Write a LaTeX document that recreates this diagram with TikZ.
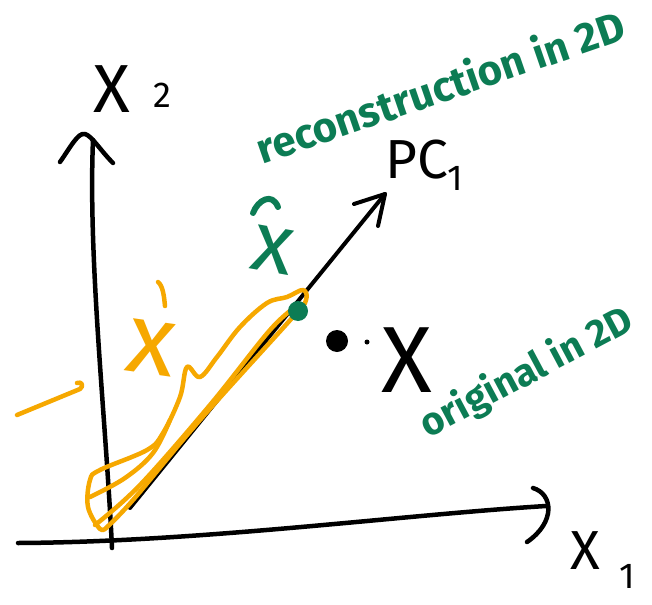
\documentclass[tikz,border=0pt]{standalone}
\usepackage{fontspec}
\setmainfont{Fira Sans}
\definecolor{pengreen}{RGB}{12,124,84}
\definecolor{penorange}{RGB}{246,168,0}
\begin{document}
\begin{tikzpicture}[x=1pt,y=-1pt,line cap=round,line join=round,
  ink/.style={line width=4.5pt,black},
  orangepen/.style={line width=4.5pt,penorange},
  lbl/.style={inner sep=0pt,outer sep=0pt},
  big/.style={lbl,font=\fontsize{#1}{#1}\selectfont},
  greentext/.style={lbl,text=pengreen,font=\bfseries\fontsize{#1}{#1}\selectfont}]
\useasboundingbox (0,0) rectangle (652,604);
% coordinates
\coordinate (yb) at (112,548);
\coordinate (yt) at (93,140);
\coordinate (xl) at (18,543);
\coordinate (xr) at (546,506);
\coordinate (po) at (130,508);
\coordinate (pt) at (385,194);
% y axis
\draw[ink] (yb) .. controls (106,420) and (88,260) .. (yt);
\draw[ink] (60,162) .. controls (70,148) and (78,132) .. (85,134) .. controls (92,136) and (100,150) .. (113,163);
% x axis
\draw[ink] (xl) .. controls (200,542) and (400,515) .. (xr);
\draw[ink] (533,488) .. controls (553,494) and (556,522) .. (527,542);
% PC1 axis
\draw[ink,line width=4pt] (po) -- (pt);
\draw[ink,line width=4pt] (354,204) -- (pt) -- (378,226);
% labels
\node[big=68] (x2) at (112,89) {X};
\node[big=36] (x2s) at (162,95) {2};
\node[big=55] (x1) at (585,551) {X};
\node[big=36] (x1s) at (627,576) {1};
\node[big=55] (pc) at (417,160) {PC};
\node[big=36] (pcs) at (455,178) {1};
% points
\node[circle,fill=black,minimum size=22pt,inner sep=0pt] (xpt) at (337,341) {};
\node[circle,fill=black,minimum size=5pt,inner sep=0pt] (dotm) at (367,342) {};
\node[big=94,text height=64pt,text depth=0pt] (xlab) at (407,360) {X};
% orange scribble (reconstruction error path)
\draw[orangepen] plot[smooth,tension=0.6] coordinates {(107,527) (100,529) (88,507) (90,480) (100,470) (147,450) (163,433) (180,397) (187,367) (200,377) (217,357) (240,327) (267,303) (287,297) (303,290) (306,300) (292,318) (200,420) (133,500) (107,527)};
\draw[orangepen] plot[smooth,tension=0.6] coordinates {(90,497) (125,478) (153,453) (170,420)};
\draw[orangepen] plot[smooth,tension=0.6] coordinates {(95,525) (140,485) (210,405) (270,330) (297,306)};
\draw[orangepen] (17,415) -- (80,389) .. controls (84,386) and (82,381) .. (77,383);
\node[big=100,text=penorange,rotate=-8] (xprime) at (151,348) {x};
\draw[orangepen] (158,282) .. controls (163,286) and (164,296) .. (165,306);
% reconstructed point
\node[circle,fill=pengreen,minimum size=20pt,inner sep=0pt] (xhatpt) at (298,311) {};
\node[big=85,text=pengreen,rotate=-10] (xhat) at (273,250) {x};
\draw[pengreen,line width=6pt] (253,213) .. controls (258,200) and (272,192) .. (278,207);
% green labels
\node[greentext=42,rotate=19] (recon) at (440,86) {reconstruction in 2D};
\node[greentext=39,rotate=28] (orig) at (527,373) {original in 2D};
\end{tikzpicture}
\end{document}
